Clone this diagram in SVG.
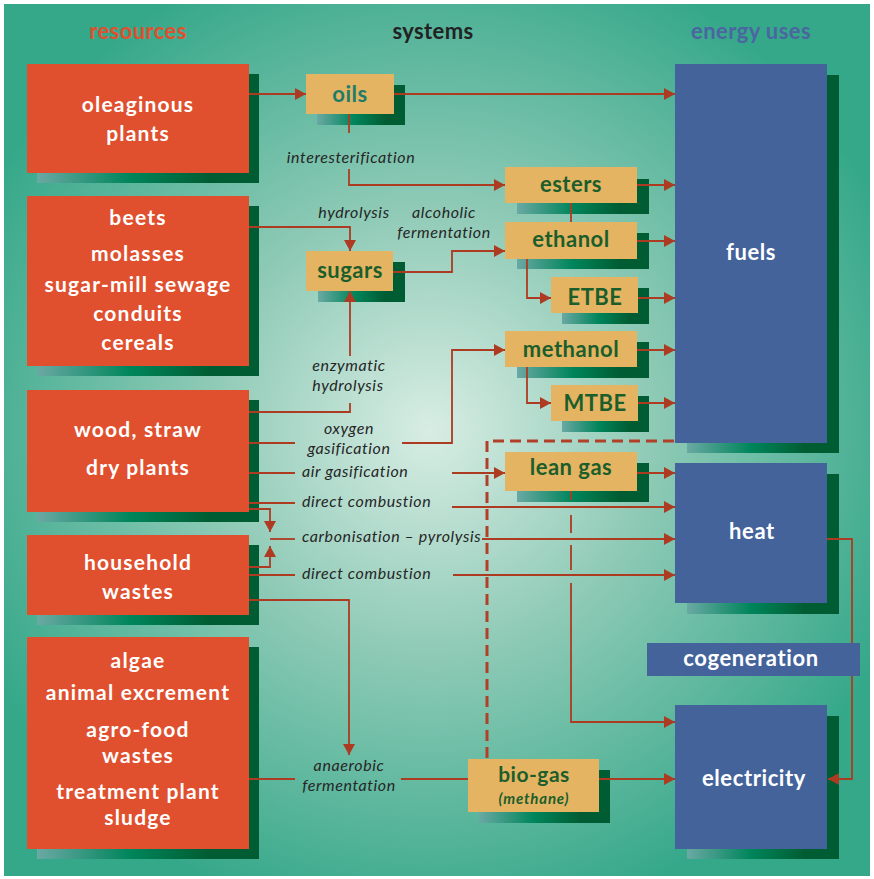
<svg xmlns="http://www.w3.org/2000/svg" width="874" height="879" viewBox="0 0 874 879">
<defs>
<radialGradient id="bg" gradientUnits="userSpaceOnUse" cx="430" cy="430" r="500">
<stop offset="0" stop-color="#d8ede4"/>
<stop offset="0.45" stop-color="#8ecab6"/>
<stop offset="1" stop-color="#36a88a"/>
</radialGradient>
<linearGradient id="sh" x1="0" y1="0" x2="1" y2="0">
<stop offset="0" stop-color="#6aa9a4"/>
<stop offset="0.42" stop-color="#00855b"/>
<stop offset="0.78" stop-color="#005c32"/>
<stop offset="1" stop-color="#005c32"/>
</linearGradient>
<marker id="ah" markerUnits="userSpaceOnUse" markerWidth="12" markerHeight="12" viewBox="0 0 12 12" refX="11" refY="6" orient="auto">
<path d="M0,0 L11,6 L0,12 z" fill="#ad3b22"/>
</marker>
</defs>
<style>
.res{fill:#e0502e}
.sys{fill:#e5b462}
.use{fill:#43639a}
.shd{fill:url(#sh)}
.rt{font-family:Lato,"Noto Sans",sans-serif;font-weight:700;font-size:21px;letter-spacing:1.2px;fill:#ffffff;text-anchor:middle}
.st{font-family:Lato,"Noto Sans",sans-serif;font-weight:700;font-size:22px;letter-spacing:0.5px;fill:#1b5e2b;text-anchor:middle}
.ut{font-family:Lato,"Noto Sans",sans-serif;font-weight:700;font-size:22px;letter-spacing:0.6px;fill:#ffffff;text-anchor:middle}
.hd{font-family:Lato,"Noto Sans",sans-serif;font-weight:700;font-size:22px;letter-spacing:0.4px;text-anchor:middle}
.lb{font-family:Lato,"Noto Sans",sans-serif;font-style:italic;font-size:16px;letter-spacing:0.6px;fill:#262626}
.c{text-anchor:middle}
.ln{fill:none;stroke:#ad3b22;stroke-width:1.8}
.ar{marker-end:url(#ah)}
.dash{fill:none;stroke:#b0402a;stroke-width:3;stroke-dasharray:11 6}
</style>
<rect x="0" y="0" width="874" height="879" fill="#ffffff"/>
<rect x="4" y="4" width="866" height="872" fill="url(#bg)"/>

<g id="headers">
<text class="hd" x="138" y="39" fill="#e0502e">resources</text>
<text class="hd" x="433" y="39" fill="#222222">systems</text>
<text class="hd" x="751" y="39" fill="#4a66a0">energy uses</text>
</g>

<g id="res-oleaginous">
<rect class="shd" x="37" y="74" width="222" height="109"/>
<rect class="res" x="27" y="64" width="222" height="109"/>
<text class="rt" x="138" y="112">oleaginous</text>
<text class="rt" x="138" y="141">plants</text>
</g>
<g id="res-beets">
<rect class="shd" x="37" y="206" width="222" height="170"/>
<rect class="res" x="27" y="196" width="222" height="170"/>
<text class="rt" x="138" y="225">beets</text>
<text class="rt" x="138" y="261">molasses</text>
<text class="rt" x="138" y="292">sugar-mill sewage</text>
<text class="rt" x="138" y="321">conduits</text>
<text class="rt" x="138" y="350">cereals</text>
</g>
<g id="res-wood">
<rect class="shd" x="37" y="400" width="222" height="122"/>
<rect class="res" x="27" y="390" width="222" height="122"/>
<text class="rt" x="138" y="437">wood, straw</text>
<text class="rt" x="138" y="475">dry plants</text>
</g>
<g id="res-household">
<rect class="shd" x="37" y="545" width="222" height="80"/>
<rect class="res" x="27" y="535" width="222" height="80"/>
<text class="rt" x="138" y="570">household</text>
<text class="rt" x="138" y="599">wastes</text>
</g>
<g id="res-algae">
<rect class="shd" x="37" y="647" width="222" height="212"/>
<rect class="res" x="27" y="637" width="222" height="212"/>
<text class="rt" x="138" y="668">algae</text>
<text class="rt" x="138" y="700">animal excrement</text>
<text class="rt" x="138" y="737">agro-food</text>
<text class="rt" x="138" y="763">wastes</text>
<text class="rt" x="138" y="799">treatment plant</text>
<text class="rt" x="138" y="825">sludge</text>
</g>

<g id="sys-oils">
<rect class="shd" x="317" y="85" width="88" height="40"/>
<rect class="sys" x="306" y="74" width="88" height="40"/>
<text class="st" x="350" y="102" style="fill:#1e7c68">oils</text>
</g>
<g id="sys-esters">
<rect class="shd" x="517" y="179" width="132" height="35"/>
<rect class="sys" x="505" y="167" width="132" height="36"/>
<text class="st" x="571" y="192">esters</text>
</g>
<g id="sys-sugars">
<rect class="shd" x="318" y="262" width="87" height="40"/>
<rect class="sys" x="306" y="251" width="87" height="40"/>
<text class="st" x="350" y="278">sugars</text>
</g>
<g id="sys-ethanol">
<rect class="shd" x="517" y="233" width="132" height="36"/>
<rect class="sys" x="505" y="222" width="132" height="37"/>
<text class="st" x="571" y="247">ethanol</text>
</g>
<g id="sys-etbe">
<rect class="shd" x="562" y="288" width="87" height="36"/>
<rect class="sys" x="551" y="277" width="87" height="36"/>
<text class="st" x="595" y="305">ETBE</text>
</g>
<g id="sys-methanol">
<rect class="shd" x="517" y="342" width="132" height="36"/>
<rect class="sys" x="505" y="331" width="132" height="36"/>
<text class="st" x="571" y="357">methanol</text>
</g>
<g id="sys-mtbe">
<rect class="shd" x="562" y="396" width="87" height="36"/>
<rect class="sys" x="551" y="385" width="87" height="36"/>
<text class="st" x="595" y="411">MTBE</text>
</g>
<g id="sys-leangas">
<rect class="shd" x="517" y="463" width="132" height="39"/>
<rect class="sys" x="505" y="452" width="132" height="39"/>
<text class="st" x="571" y="475">lean gas</text>
</g>
<g id="sys-biogas">
<rect class="shd" x="479" y="770" width="131" height="53"/>
<rect class="sys" x="468" y="759" width="131" height="53"/>
<text class="st" x="534" y="782" style="font-size:21px">bio-gas</text>
<text class="st" x="534" y="804" style="font-size:15px;font-style:italic;letter-spacing:0.8px">(methane)</text>
</g>

<g id="use-fuels">
<rect class="shd" x="687" y="75" width="152" height="378"/>
<rect class="use" x="675" y="64" width="152" height="379"/>
<text class="ut" x="751" y="260">fuels</text>
</g>
<g id="use-heat">
<rect class="shd" x="687" y="474" width="152" height="140"/>
<rect class="use" x="675" y="463" width="152" height="140"/>
<text class="ut" x="752" y="539">heat</text>
</g>
<g id="use-electricity">
<rect class="shd" x="687" y="716" width="152" height="143"/>
<rect class="use" x="675" y="705" width="152" height="144"/>
<text class="ut" x="754" y="786">electricity</text>
</g>

<g id="connectors">
<path class="ln ar" d="M249,94 H306"/>
<path class="ln ar" d="M394,94 H675"/>
<path class="ln" d="M349,114 V133"/>
<path class="ln ar" d="M349,169 V185 H505"/>
<path class="ln ar" d="M637,185 H675"/>
<path class="ln" d="M571,203 V222"/>
<path class="ln ar" d="M249,227 H350 V251"/>
<path class="ln ar" d="M393,272 H452 V251 H505"/>
<path class="ln ar" d="M637,241 H675"/>
<path class="ln ar" d="M527,259 V298 H551"/>
<path class="ln ar" d="M638,298 H675"/>
<path class="ln ar" d="M637,350 H675"/>
<path class="ln ar" d="M527,367 V403 H551"/>
<path class="ln ar" d="M638,403 H675"/>
<path class="ln ar" d="M350,356 V291"/>
<path class="ln" d="M350,403 V412 H249"/>
<path class="ln" d="M249,443 H295"/>
<path class="ln ar" d="M402,443 H452 V350 H505"/>
<path class="ln" d="M249,473 H295"/>
<path class="ln ar" d="M452,473 H505"/>
<path class="ln ar" d="M637,473 H675"/>
<path class="ln" d="M249,503 H295"/>
<path class="ln ar" d="M452,507 H675"/>
<path class="ln ar" d="M249,509 H270 V532"/>
<path class="ln ar" d="M249,567 H270 V546"/>
<path class="ln" d="M270,539 H295"/>
<path class="ln ar" d="M482,539 H675"/>
<path class="ln" d="M249,575 H295"/>
<path class="ln ar" d="M453,575 H675"/>
<path class="ln ar" d="M249,600 H349 V755"/>
<path class="ln" d="M249,779 H295"/>
<path class="ln" d="M401,779 H468"/>
<path class="ln ar" d="M599,779 H675"/>
<path class="ln" d="M571,491 V500 M571,515 V533 M571,545 V570"/>
<path class="ln ar" d="M571,583 V722 H675"/>
<path class="ln ar" d="M827,539 H852 V779 H828"/>
<path class="dash" d="M487,758 V441 H675"/>
<text class="lb c" x="351" y="163">interesterification</text>
<text class="lb c" x="354" y="218">hydrolysis</text>
<text class="lb c" x="444" y="218">alcoholic</text>
<text class="lb c" x="444" y="238">fermentation</text>
<text class="lb c" x="349" y="371">enzymatic</text>
<text class="lb c" x="348" y="391">hydrolysis</text>
<text class="lb c" x="349" y="434">oxygen</text>
<text class="lb c" x="349" y="454">gasification</text>
<text class="lb" x="302" y="477">air gasification</text>
<text class="lb" x="302" y="507">direct combustion</text>
<text class="lb" x="302" y="542">carbonisation – pyrolysis</text>
<text class="lb" x="302" y="579">direct combustion</text>
<text class="lb c" x="349" y="771">anaerobic</text>
<text class="lb c" x="349" y="791">fermentation</text>
</g>

<g id="use-cogeneration">
<rect class="use" x="647" y="643" width="213" height="33"/>
<text class="ut" x="751" y="666">cogeneration</text>
</g>
</svg>
